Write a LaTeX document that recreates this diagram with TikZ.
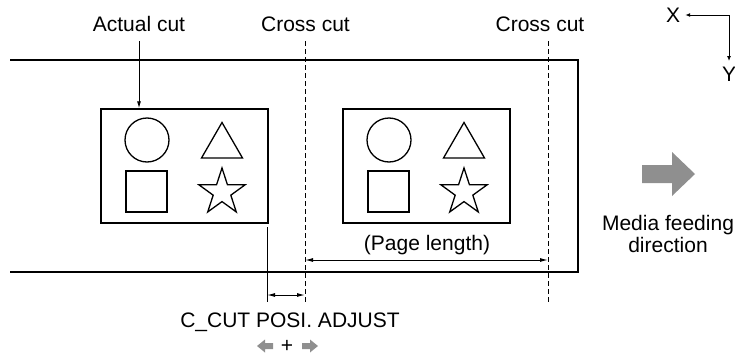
\documentclass[tikz,border=0pt]{standalone}
\usepackage{fontspec}
\setmainfont{Liberation Sans}
\usetikzlibrary{arrows.meta,shapes.geometric}
\definecolor{blockgray}{gray}{0.56}
\tikzset{
	lbl/.style={font=\fontsize{21}{22}\selectfont, inner sep=0pt, align=center},
	outline/.style={line width=1.3pt},
	thinline/.style={line width=1pt},
	cutline/.style={line width=1pt, dash pattern=on 5pt off 3pt},
	dim/.style={thinline, {Latex[length=8pt,width=4pt]}-{Latex[length=8pt,width=4pt]}},
	pointer/.style={thinline, -{Latex[length=7pt,width=4pt]}},
	axis/.style={thinline, -{Latex[length=5pt,width=4pt]}},
}
\begin{document}
\begin{tikzpicture}[x=1pt,y=-1pt]
	\useasboundingbox (0,0) rectangle (735,356);

	% media
	\draw[line width=1.5pt] (10,60) -- (578,60) -- (578,272) -- (10,272);

	% printed pages
	\foreach \dx/\nm in {0/a,242/b}{
		\node[draw, outline, minimum width=167pt, minimum height=114pt, inner sep=0pt] (page\nm) at (184.5+\dx,166) {};
		\draw[outline] (147+\dx,140) circle (22pt);
		\draw[outline] (201.5+\dx,158) -- (242.5+\dx,158) -- (222+\dx,122.5) -- cycle;
		\draw[outline] (126+\dx,171) rectangle (167+\dx,212);
		\node[star, star points=5, star point ratio=2.618, draw, outline, minimum size=48.6pt, inner sep=0pt] (star\nm) at (222+\dx,192.3) {};
	}

	% cut labels
	\node[lbl] (actual) at (139,24) {Actual cut};
	\node[lbl] (crossa) at (305.5,24) {Cross cut};
	\node[lbl] (crossb) at (540,24) {Cross cut};
	\coordinate (acttop) at (139,41);
	\draw[pointer] (acttop) -- (acttop |- pagea.north);

	\coordinate (cuta) at (305,41);
	\coordinate (cuta-end) at (305,302);
	\coordinate (cutb) at (548,41);
	\coordinate (cutb-end) at (548,302);
	\draw[cutline] (cuta) -- (cuta-end);
	\draw[cutline] (cutb) -- (cutb-end);

	% page length
	\node[lbl] (pagelen) at (427,245) {(Page length)};
	\coordinate (pl-l) at (305,260);
	\coordinate (pl-r) at (548,260);
	\draw[dim] (pl-l) -- (pl-r);

	% adjustment
	\coordinate (adj-top) at (267,227);
	\coordinate (adj-end) at (267,302);
	\draw[thinline] (adj-top) -- (adj-end);
	\coordinate (adj-l) at (267,295);
	\coordinate (adj-r) at (305,295);
	\draw[dim] (adj-l) -- (adj-r);
	\node[lbl] (ccut) at (290,322) {C\_CUT POSI. ADJUST};
	\node[lbl] (plus) at (287,346) {+};
	\fill[blockgray] (257,346) -- (265,339.5) -- (265,343) -- (273,343) -- (273,349) -- (265,349) -- (265,352.5) -- cycle;
	\fill[blockgray] (318,346) -- (310,339.5) -- (310,343) -- (302,343) -- (302,349) -- (310,349) -- (310,352.5) -- cycle;

	% feeding direction
	\fill[blockgray] (695,174) -- (672,152) -- (672,165) -- (642,165) -- (642,183) -- (672,183) -- (672,196) -- cycle;
	\node[lbl] (feed) at (668,234) {Media feeding\\direction};

	% axes
	\node[lbl] (xlab) at (673,15) {X};
	\node[lbl] (ylab) at (729,74.5) {Y};
	\coordinate (origin) at (729,15);
	\draw[axis, shorten >=5pt] (origin) -- (xlab.east);
	\draw[axis, shorten >=6pt] (origin) -- (ylab.north);
\end{tikzpicture}
\end{document}
